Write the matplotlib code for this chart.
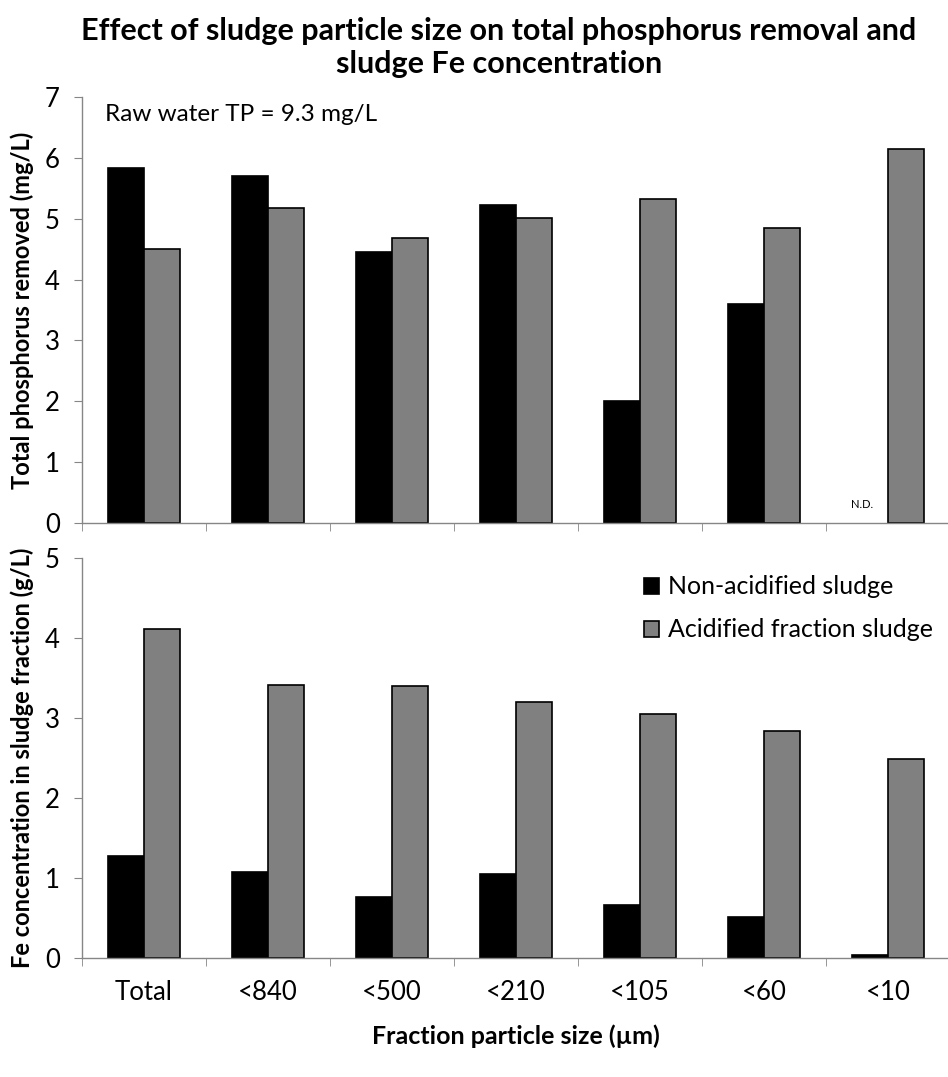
import numpy as np
import matplotlib
matplotlib.use('Agg')
import matplotlib.pyplot as plt

# Datos leídos por fracción de tamaño de partícula
categorias = ['Total', '<840', '<500', '<210', '<105', '<60', '<10']
tp_no_acid = [5.83, 5.71, 4.45, 5.23, 2.00, 3.60, None]   # <10: N.D.
tp_acid    = [4.51, 5.18, 4.69, 5.02, 5.32, 4.85, 6.15]
fe_no_acid = [1.28, 1.08, 0.76, 1.05, 0.66, 0.51, 0.04]
fe_acid    = [4.11, 3.41, 3.40, 3.20, 3.05, 2.84, 2.49]

plt.rcParams['font.family'] = ['Lato', 'DejaVu Sans']

COLOR_NEGRO = '#000000'
COLOR_GRIS  = '#808080'
COLOR_EJE   = '#868686'

x = np.arange(len(categorias))
ancho = 0.29

fig = plt.figure(figsize=(9.48, 10.77), dpi=100)
ax1 = fig.add_axes([0.0865, 0.5144, 0.916, 0.3955])
ax2 = fig.add_axes([0.0865, 0.1105, 0.916, 0.3714])


def estilo_ejes(ax, ymax):
    ax.set_xlim(-0.5, len(categorias) - 0.5)
    ax.set_ylim(0, ymax)
    ax.set_yticks(np.arange(0, ymax + 1, 1))
    for s in ['top', 'right']:
        ax.spines[s].set_visible(False)
    for s in ['left', 'bottom']:
        ax.spines[s].set_color(COLOR_EJE)
        ax.spines[s].set_linewidth(1.0)
    ax.set_xticks(x)
    ax.set_xticks(np.arange(-0.5, len(categorias), 1.0), minor=True)
    ax.tick_params(axis='x', which='major', length=0, labelsize=18.5, pad=16)
    ax.tick_params(axis='x', which='minor', length=5.5, color=COLOR_EJE, direction='out')
    ax.tick_params(axis='y', length=6, color=COLOR_EJE, direction='out', labelsize=18.5, pad=10)


# ── Panel superior: fósforo total removido ─────────────────────────
idx_tp = [i for i, v in enumerate(tp_no_acid) if v is not None]
ax1.bar(x[idx_tp] - ancho/2, [tp_no_acid[i] for i in idx_tp], ancho,
        color=COLOR_NEGRO, edgecolor='black', linewidth=1.2)
ax1.bar(x + ancho/2, tp_acid, ancho, color=COLOR_GRIS, edgecolor='black', linewidth=1.2)
estilo_ejes(ax1, 7)
ax1.set_xticklabels([])
ax1.set_ylabel('Total phosphorus removed (mg/L)', fontsize=17, fontweight='bold', labelpad=8)
ax1.text(0.026, 0.958, 'Raw water TP = 9.3 mg/L', transform=ax1.transAxes, fontsize=17.5, va='center')
for i, v in enumerate(tp_no_acid):
    if v is None:
        ax1.text(x[i] - ancho/2 - 0.07, 0.3, 'N.D.', fontsize=8, ha='center', va='center')

# ── Panel inferior: concentración de Fe ────────────────────────────
ax2.bar(x - ancho/2, fe_no_acid, ancho, color=COLOR_NEGRO, edgecolor='black', linewidth=1.2,
        label='Non-acidified sludge')
ax2.bar(x + ancho/2, fe_acid, ancho, color=COLOR_GRIS, edgecolor='black', linewidth=1.2,
        label='Acidified fraction sludge')
estilo_ejes(ax2, 5)
ax2.set_xticklabels(categorias)
ax2.set_ylabel('Fe concentration in sludge fraction (g/L)', fontsize=17, fontweight='bold', labelpad=8)
ax2.set_xlabel('Fraction particle size (µm)', fontsize=18, fontweight='bold', labelpad=14)
ax2.legend(loc='upper right', bbox_to_anchor=(1.0, 1.0), frameon=False, fontsize=18,
           handlelength=0.6, handleheight=0.6, handletextpad=0.35, labelspacing=0.8,
           borderaxespad=0.3)

fig.suptitle('Effect of sludge particle size on total phosphorus removal and\nsludge Fe concentration',
             x=0.526, y=0.984, fontsize=22, fontweight='bold', linespacing=1.22)

fig.savefig('out.png', dpi=100)
